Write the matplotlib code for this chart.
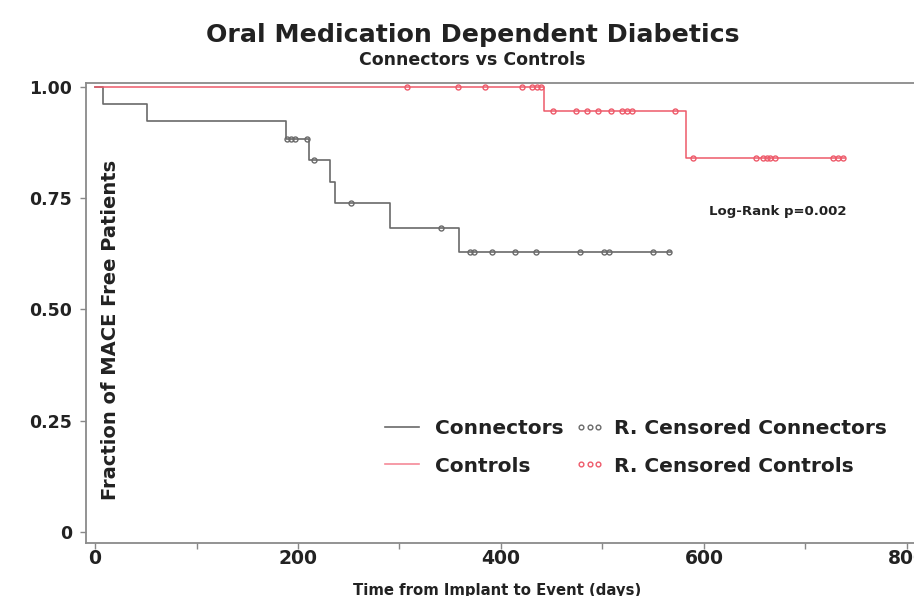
import numpy as np
import matplotlib
matplotlib.use("Agg")
import matplotlib.pyplot as plt
from matplotlib.lines import Line2D
from matplotlib.legend_handler import HandlerLine2D

plt.rcParams['font.family'] = ['DejaVu Sans']
plt.rcParams['font.weight'] = 'bold'

# Kaplan-Meier steps (days, survival after the event)
conn_event_days = [8, 51, 188, 211, 232, 236, 291, 359]
conn_surv = [0.962, 0.923, 0.882, 0.836, 0.787, 0.739, 0.684, 0.629]
conn_censor_days = [189, 193, 197, 209, 216, 252, 341, 369, 373, 391, 414, 435,
                    478, 502, 506, 550, 566]
conn_end = 568

ctrl_event_days = [442, 582]
ctrl_surv = [0.945, 0.840]
ctrl_censor_days = [307, 358, 384, 421, 431, 436, 439, 451, 474, 485, 496, 508,
                    519, 524, 529, 571, 589, 651, 658, 662, 665, 670, 727, 732, 737]
ctrl_end = 739

gray = '#6a6a6a'
red = '#ee5a6a'
txt = '#222222'


def km_path(event_days, surv, end):
    xs, ys = [0], [1.0]
    for d, s in zip(event_days, surv):
        xs.append(d)
        ys.append(s)
    xs.append(end)
    ys.append(surv[-1])
    return xs, ys


def surv_at(days, event_days, surv):
    out = []
    for d in days:
        s = 1.0
        for e, v in zip(event_days, surv):
            if d >= e:
                s = v
        out.append(s)
    return out


class CensorHandler(HandlerLine2D):
    # squeeze the three circles into the right part of the handle box
    def get_xdata(self, legend, xdescent, ydescent, width, height, fontsize):
        n = self.get_numpoints(legend)
        xdata = np.linspace(-xdescent + 0.5 * width, -xdescent + 1.0 * width, n)
        return xdata, xdata


fig = plt.figure(figsize=(9.14, 5.96), dpi=100)
ax = fig.add_axes([86 / 914, 1 - 543 / 596, 1 - 86 / 914, (543 - 83) / 596])

cx, cy = km_path(conn_event_days, conn_surv, conn_end)
ax.step(cx, cy, where='post', color=gray, lw=1.2)
ax.plot(conn_censor_days, surv_at(conn_censor_days, conn_event_days, conn_surv),
        'o', ms=3.6, mfc='none', mec=gray, mew=1.0)

rx, ry = km_path(ctrl_event_days, ctrl_surv, ctrl_end)
ax.step(rx, ry, where='post', color=red, lw=1.1)
ax.plot(ctrl_censor_days, surv_at(ctrl_censor_days, ctrl_event_days, ctrl_surv),
        'o', ms=3.6, mfc='none', mec=red, mew=1.0)

ax.set_xlim(-8.9, 807)
ax.set_ylim(-0.025, 1.009)
ax.set_xticks([0, 200, 400, 600, 800])
ax.set_xticks([100, 300, 500, 700], minor=True)
ax.set_yticks([0, 0.25, 0.5, 0.75, 1.0])
ax.set_yticklabels(['0', '0.25', '0.50', '0.75', '1.00'])
ax.tick_params(axis='y', direction='out', length=4, width=1, color='#888888',
               labelsize=12.5, labelcolor=txt, pad=6)
ax.tick_params(axis='x', which='both', direction='out', length=4, width=1,
               color='#888888', labelsize=13.5, labelcolor=txt, pad=0)
for lab in ax.get_xticklabels() + ax.get_yticklabels():
    lab.set_fontweight('bold')

for side in ['left', 'bottom', 'top']:
    ax.spines[side].set_color('#8a8a8a')
    ax.spines[side].set_linewidth(1.3)
ax.spines['right'].set_visible(False)

ax.text(0.029, 0.463, 'Fraction of MACE Free Patients', transform=ax.transAxes,
        rotation=90, ha='center', va='center', fontsize=14, fontweight='bold',
        color=txt)
fig.text(497 / 914, 1 - 591 / 596, 'Time from Implant to Event (days)',
         ha='center', va='center', fontsize=10.7, fontweight='bold', color=txt)

fig.text(473 / 914, 1 - 35 / 596, 'Oral Medication Dependent Diabetics',
         ha='center', va='center', fontsize=18.2, fontweight='bold', color=txt)
fig.text(472 / 914, 1 - 60 / 596, 'Connectors vs Controls',
         ha='center', va='center', fontsize=12.5, fontweight='bold', color=txt)

ax.text(673, 0.721, 'Log-Rank p=0.002', ha='center', va='center', fontsize=9.5,
        fontweight='bold', color=txt)

conn_line = Line2D([], [], color=gray, lw=1.2)
ctrl_line = Line2D([], [], color='#f58a98', lw=1.2)
conn_mark = Line2D([], [], ls='none', marker='o', ms=3.4, mfc='none', mec=gray, mew=1.0)
ctrl_mark = Line2D([], [], ls='none', marker='o', ms=3.4, mfc='none', mec=red, mew=1.0)
handles = [conn_line, ctrl_line, conn_mark, ctrl_mark]
labels = ['Connectors', 'Controls', 'R. Censored Connectors', 'R. Censored Controls']
fig.legend(handles, labels, loc='upper left',
           bbox_to_anchor=(385 / 914, 1 - 419 / 596), ncol=2, frameon=False,
           numpoints=3, handlelength=1.7, handletextpad=0.8, columnspacing=0.0,
           labelspacing=0.92, borderpad=0, borderaxespad=0,
           handler_map={conn_line: HandlerLine2D(marker_pad=0),
                        ctrl_line: HandlerLine2D(marker_pad=0),
                        conn_mark: CensorHandler(), ctrl_mark: CensorHandler()},
           prop={'size': 14.5, 'weight': 'bold'}, labelcolor=txt)

fig.savefig('out.png', dpi=100)
